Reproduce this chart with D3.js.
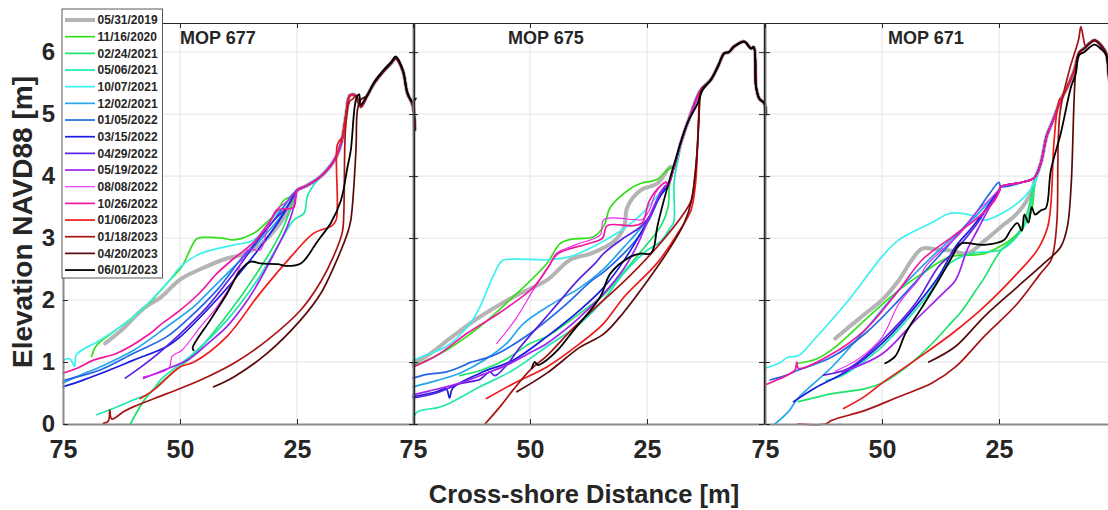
<!DOCTYPE html>
<html>
<head>
<meta charset="utf-8">
<script src="https://cdn.jsdelivr.net/npm/d3@7"></script>
<style>
  html, body { margin: 0; padding: 0; background: #fff; }
  svg text { font-family: "Liberation Sans", Arial, sans-serif; font-weight: bold; fill: #262626; }
</style>
</head>
<body>
<div id="chart"></div>
<script>
// survey dates (legend order = draw order)
const dates = ["05/31/2019", "11/16/2020", "02/24/2021", "05/06/2021", "10/07/2021", "12/02/2021",
  "01/05/2022", "03/15/2022", "04/29/2022", "05/19/2022", "08/08/2022", "10/26/2022",
  "01/06/2023", "01/18/2023", "04/20/2023", "06/01/2023"];
const colors = ["#b4b4b4", "#33e01a", "#1ee36a", "#1ee8b0", "#3ef0f0", "#26a6ec",
  "#2266e6", "#1a1ae0", "#5a22e0", "#a020f0", "#f020f0", "#f0189c",
  "#f01a1a", "#a81414", "#5a0a0a", "#000000"];
const widths = [4, 1.7, 1.7, 1.7, 1.7, 1.7, 1.7, 1.7, 1.7, 1.7, 1.1, 1.7, 1.7, 1.7, 1.7, 1.8];

const panelNames = ["MOP 677", "MOP 675", "MOP 671"];
const xTicks = [75, 50, 25];
const yTicks = [0, 1, 2, 3, 4, 5, 6];

// shared upper beach / bluff-toe profile of each transect [distance m, elevation m]
const crest677 = [[25,3.77],[22.8,3.85],[20,3.99],[17,4.26],[15.5,4.55],[14.5,5.0],[13.7,5.3],[12.5,5.3],[11.4,5.12],[10,5.3],[8.5,5.5],[6.4,5.7],[4.9,5.82],[3.9,5.9],[2.4,5.7],[1.4,5.33],[0.3,5.15],[-0.2,4.75]];
const crest675 = [[20.6,3.83],[19.2,4.15],[17.8,4.53],[15.6,5.01],[13.5,5.39],[11.4,5.55],[9.9,5.76],[8.5,5.98],[7.5,6.0],[6.4,6.09],[4.2,6.17],[2.8,6.06],[2.2,6.08],[1.7,5.44],[1.0,5.25],[-0.1,5.17],[-0.4,5.0]];
const crest671 = [[24.6,3.83],[20,3.9],[17.5,3.97],[16.1,4.2],[14.8,4.65],[14,4.8],[13.2,4.95],[11.8,5.23],[10.4,5.44],[8.9,5.71],[7.9,5.98],[6.8,6.06],[4.6,6.19],[3.2,6.11],[2.1,5.98],[1.4,5.55],[0,5.1]];

// lower profiles, one per date, same order as dates
const mop677 = [
  [[66,1.3],[62,1.55],[58,1.85],[54,2.05],[50,2.33],[45.6,2.5],[40,2.67],[36,2.75],[32,2.95],[28,3.3],[25.5,3.65]],
  [[68.9,1.09],[67.8,1.27],[64,1.5],[59.9,1.73],[56,2.0],[52.8,2.27],[49.6,2.54],[46.4,2.99],[44.2,3.01],[41,3.0],[38.5,2.97],[34.2,3.08],[31.4,3.26],[29.5,3.4],[27.8,3.61],[26.4,3.67]],
  [[60.6,0],[57,0.45],[52,0.8],[47,1.12],[40,1.75],[33,2.5],[28.5,3.08],[26.5,3.45],[25.5,3.7]],
  [[67.8,0.15],[65,0.23],[59.9,0.39],[56.4,0.5],[54.2,0.71],[47.1,1.14],[39.9,1.68],[33.5,2.32],[29.2,2.86],[25.7,3.29],[23.5,3.4],[22.8,3.67],[21.5,3.85]],
  [[75,1.03],[73.5,1.05],[72.5,0.93],[72.1,1.12],[67.1,1.35],[59.9,1.73],[52.8,2.27],[49.6,2.56],[45.6,2.75],[38.5,2.89],[34.2,2.97],[30.6,3.29],[28,3.5],[26,3.7]],
  [[75,0.66],[71,0.8],[67.1,0.92],[59.9,1.19],[52.8,1.57],[47.1,1.89],[45.6,2.0],[39.9,2.43],[32.8,2.97],[29,3.3],[26,3.65]],
  [[75,0.7],[71,0.78],[67.1,0.87],[59.9,1.14],[52.8,1.41],[48.5,1.68],[42.1,2.16],[37.1,2.65],[32.1,3.08],[27.8,3.51],[26,3.7]],
  [[75,0.6],[71,0.7],[67.1,0.81],[59.9,1.03],[52.8,1.25],[49.9,1.41],[44.2,1.84],[38.5,2.32],[32.8,2.86],[27.8,3.4],[25.5,3.72]],
  [[61.7,0.74],[56.4,1.03],[49.9,1.46],[44.2,1.89],[38.5,2.43],[32.8,3.02],[29.9,3.29],[27.1,3.5],[25.5,3.7]],
  [[57.8,0.74],[52.4,0.9],[48,1.05],[44,1.3],[40,1.57],[36.5,1.9],[34.2,2.16],[30.6,2.65],[27.1,3.18],[25.7,3.5],[25.2,3.7]],
  [[57.8,0.76],[52.4,0.9],[51.7,1.09],[49.6,1.19],[45.6,1.57],[42.1,1.89],[37.8,2.43],[35.6,2.81],[32.8,2.81],[31.4,3.13],[29.5,3.45],[27,3.6]],
  [[75,0.82],[72,0.9],[68.5,1.03],[63.5,1.14],[56.4,1.46],[54.2,1.6],[49.9,1.84],[45.6,2.13],[42.1,2.43],[38.5,2.67],[34,2.95],[30.6,3.29],[29.2,3.45],[25.7,3.5]],
  [[58.5,0.41],[55.6,0.55],[50,0.92],[47,1.0],[40,1.41],[33,2.1],[25.7,2.75],[21.4,3.08],[17.5,3.2],[16.6,3.3],[16.4,4.5],[15.6,4.6]],
  [[66.4,0.01],[65.3,0.05],[65,0.23],[64.6,0.08],[62,0.2],[59.9,0.28],[52.8,0.49],[45.6,0.71],[38.5,0.98],[31.4,1.35],[24.2,1.84],[19.9,2.3],[17.1,2.72],[15.3,3.1],[15,3.4],[14.6,4.8],[13.8,5.2],[13,5.25]],
  [[42.8,0.6],[38.5,0.76],[31.4,1.14],[24.2,1.68],[19.9,2.11],[17.1,2.54],[14.2,3.08],[13.5,3.29],[12.4,4.42],[12.1,5.06],[11.4,5.23]],
  [[47.1,1.19],[47.3,1.23],[43.5,1.68],[39.9,2.11],[37.1,2.48],[34.9,2.62],[32.8,2.59],[29.2,2.58],[27.1,2.55],[24.2,2.59],[22.8,2.7],[21.4,2.86],[19.9,3.02],[17.8,3.24],[15.6,3.61],[14.2,4.15],[13.5,4.42],[12.4,5.23],[11.7,5.32],[11.4,5.15],[10,5.3],[8.5,5.52],[6.4,5.72],[4.9,5.84],[3.9,5.93],[2.4,5.72],[1.4,5.35],[0.3,5.2],[-0.4,5.25]]
];

const mop675 = [
  [[75,0.98],[72,1.1],[67.1,1.38],[60.7,1.73],[53.6,2.05],[46.4,2.32],[41.4,2.65],[37,2.75],[32,2.95],[29.9,3.18],[29.2,3.5],[26.4,3.77],[22.8,3.88],[20,4.15]],
  [[75,0.95],[73.6,0.98],[67.9,1.19],[60.7,1.57],[53.6,2.05],[46.4,2.59],[43.6,2.91],[41.4,2.98],[36.4,3.02],[34.2,3.2],[32.8,3.5],[28.5,3.8],[26.4,3.88],[22.8,3.95],[20.3,4.12]],
  [[65,0.78],[60,0.88],[55,1.05],[50,1.3],[46.4,1.41],[39.3,1.79],[34,2.1],[30,2.45],[25,2.9],[22,3.2],[20.5,3.5],[20.2,3.85]],
  [[75,0.1],[74,0.2],[70,0.26],[67.9,0.31],[60.7,0.6],[53.6,0.87],[46.4,1.25],[39.3,1.62],[34.3,2.0],[30,2.43],[25,2.8],[22,2.95],[20.2,3.15],[19.3,3.25],[19.2,3.9],[18.2,4.35]],
  [[75,1.03],[72,1.12],[67.9,1.25],[63,1.6],[60.7,1.89],[57.9,2.38],[56,2.63],[53.6,2.66],[46.4,2.65],[41.4,2.7],[35,2.92],[30,3.15],[26,3.4],[22,3.75],[20.8,3.85]],
  [[75,0.6],[70,0.7],[65,0.82],[60,1.02],[55,1.3],[51.4,1.62],[45,1.95],[39.3,2.2],[34.3,2.5],[30,2.85],[27,3.1],[24,3.4],[22,3.7]],
  [[75,0.74],[72,0.8],[67.9,0.84],[64,0.95],[62.9,0.99],[60,1.05],[57.1,1.13],[50,1.46],[42.9,1.89],[37,2.3],[34.3,2.45],[30,2.75],[27,3.0],[24.5,3.3],[22.5,3.65],[21,3.8]],
  [[75,0.44],[70,0.52],[67.9,0.57],[67.2,0.42],[66.5,0.58],[60.7,0.82],[53.6,1.03],[46.4,1.41],[39.3,1.84],[34.3,2.2],[29.9,2.64],[25.6,3.18],[22.8,3.6],[21,3.8]],
  [[75,0.42],[70,0.5],[65,0.65],[60.7,0.72],[58.6,0.84],[57.5,0.78],[55,0.95],[52,1.25],[48,1.6],[44,1.95],[40,2.3],[36,2.6],[34.3,2.75],[30,3.0],[26.4,3.18],[24,3.4],[22,3.75],[21,3.82]],
  [[75,0.47],[70,0.56],[65,0.66],[60,0.8],[55,0.95],[50,1.15],[46.4,1.3],[42,1.55],[39.3,1.73],[34.3,2.1],[30,2.5],[27,2.9],[25,3.25],[23,3.6],[21,3.85]],
  [[57.1,1.3],[53,1.7],[49,2.2],[45.5,2.6],[44.5,2.75],[40,2.9],[35,3.05],[34.2,3.3],[28,3.3],[26,3.3],[24.5,3.45],[23,3.75],[21,3.9]],
  [[75,0.92],[70,1.1],[63.5,1.46],[56.4,1.8],[49.2,2.21],[46.4,2.5],[44,2.75],[38,2.9],[34.5,3.0],[33.5,3.2],[28,3.2],[26,3.25],[24.5,3.6],[22,3.85],[20.8,3.9]],
  [[59.3,0.41],[53.6,0.65],[46.4,0.92],[39.3,1.3],[34.3,1.62],[29.9,2.05],[22.8,2.6],[17.8,3.15],[15.6,3.45],[14.6,3.9],[14,4.9],[13.5,5.37]],
  [[59.6,0.0],[56.4,0.28],[53.6,0.55],[50,0.87],[46.4,1.1],[40.7,1.55],[35,1.95],[29.9,2.3],[22.8,2.86],[17.1,3.4],[15.6,3.6],[14.6,4.09],[13.9,4.9],[13.5,5.35]],
  [[52.8,0.52],[46.4,0.82],[39.3,1.24],[34.3,1.45],[30,1.8],[25,2.3],[20,2.85],[17,3.25],[15.5,3.6],[14.3,4.4],[13.8,5.1],[13.4,5.38]],
  [[49.6,0.9],[49,1.0],[48.3,0.95],[47,1.0],[44,1.2],[40.7,1.51],[35,2.05],[32.8,2.43],[28.5,2.7],[26.4,2.75],[24.2,2.75],[23.5,2.86],[22.8,3.18],[20.6,3.83],[18.5,4.37],[16.4,4.85],[14.2,5.17],[13.1,5.39]]
];

const mop671 = [
  [[60,1.38],[53.6,1.78],[50,2.0],[46.4,2.32],[43.6,2.65],[41.4,2.83],[37.9,2.81],[35.4,2.8],[31.8,2.75],[28.2,2.95],[24.6,3.18],[21.1,3.4],[18.2,3.72],[17.3,3.95]],
  [[67.9,0.98],[64,1.05],[60.7,1.2],[53.6,1.68],[46.4,2.16],[41,2.45],[38,2.6],[35.4,2.7],[28.2,2.75],[24,2.9],[21.1,3.07],[18.2,3.4],[17.3,3.9]],
  [[67.9,0.36],[63,0.45],[60.7,0.49],[53.6,0.57],[50,0.66],[46,0.85],[42,1.1],[38,1.4],[35.4,1.62],[33.2,1.8],[30,2.15],[28.2,2.35],[24.6,2.8],[21.1,3.05],[19,3.4],[17.3,3.95]],
  [[62,0.7],[58.6,0.78],[55,0.95],[50,1.25],[45,1.65],[40,2.1],[37,2.45],[35.4,2.6],[31.1,2.75],[24.6,2.81],[21.1,3.03],[19,3.29],[17.4,3.85]],
  [[75,0.9],[72,0.98],[70,1.08],[67.9,1.1],[64.3,1.38],[57.1,2.0],[50,2.7],[46.4,2.97],[39.3,3.25],[35.4,3.4],[31,3.37],[28.2,3.29],[24.6,3.39],[19.6,3.66],[17.4,3.9]],
  [[72.9,0],[70,0.2],[67.9,0.42],[60.7,0.92],[53.6,1.52],[46.4,2.16],[39.3,2.7],[35,3.0],[30,3.35],[27,3.6],[24.8,3.8]],
  [[73.9,0.71],[70.7,0.78],[67.9,0.87],[60.7,1.08],[53.6,1.46],[46.4,2.0],[39.3,2.59],[35,2.95],[30,3.4],[27,3.72],[25,3.9]],
  [[68.9,0.36],[64.3,0.58],[57.1,0.87],[50,1.3],[42.9,1.89],[37.9,2.38],[34.3,2.86],[31,3.15],[28,3.45],[25,3.78]],
  [[62.5,0.79],[57.1,0.9],[50,1.35],[42.9,1.94],[37.9,2.54],[35,2.75],[30,3.2],[27,3.55],[25,3.75]],
  [[58.6,0.84],[50,1.13],[42.9,1.67],[37.1,2.1],[34.3,2.32],[31.8,2.81],[29.6,3.13],[27,3.5],[25,3.75]],
  [[60,0.85],[55,1.05],[50,1.4],[46.4,1.94],[42,2.35],[40.7,2.54],[36.4,2.86],[33,3.1],[30,3.4],[26,3.7],[24.8,3.8]],
  [[75,0.63],[70.7,0.77],[68.6,0.87],[68.2,1.0],[67.9,0.9],[60.7,1.13],[53.6,1.52],[46.4,2.16],[41.4,2.65],[35,3.02],[30,3.3],[26,3.6],[24.8,3.78]],
  [[58.2,0.25],[53.6,0.45],[50,0.66],[42.9,1.03],[35,1.46],[28.2,1.89],[21.1,2.43],[16.8,2.81],[14.6,3.18],[13.9,3.56],[13.3,4.5],[12.5,5.1],[12,5.25]],
  [[67.9,0],[62.1,0],[60.7,0.06],[53.6,0.22],[46.4,0.44],[39.3,0.66],[34.3,0.92],[28.2,1.41],[21.1,1.94],[16.1,2.43],[13.9,2.64],[13.2,2.85],[12.6,3.3],[12.0,5.0],[10.0,5.7],[8.0,6.2],[7.5,6.41],[6.9,6.2],[6.5,6.1]],
  [[40,1.0],[34.3,1.25],[28.2,1.73],[21.1,2.21],[15.4,2.59],[11.8,2.86],[10.4,3.18],[9.6,3.83],[8.6,5.71],[7.9,6.0],[7,6.05]],
  [[49.3,0.98],[47.1,1.1],[45,1.46],[41.4,1.89],[37.9,2.32],[35,2.7],[33.2,2.91],[28.2,2.89],[23.9,2.97],[22.5,3.13],[21.1,3.24],[20.1,3.12],[19.6,3.38],[18.7,3.25],[18,3.5],[17.3,3.38],[16,3.45],[15,3.48],[13.9,4.1],[11.8,4.69],[9.6,5.44],[8.6,5.65],[7.9,5.95],[6.8,6.0],[4.6,6.12],[3.2,6.05],[2.1,5.95],[1.4,5.5],[0,5.1]]
];

const panels = [
  { name: panelNames[0], lower: mop677, crest: crest677, labelAt: 50 },
  { name: panelNames[1], lower: mop675, crest: crest675, labelAt: 54.7 },
  { name: panelNames[2], lower: mop671, crest: crest671, labelAt: 48.7 }
];

// continue a lower profile onto the shared upper profile
function fullProfile(pts, crest) {
  const lastX = pts[pts.length - 1][0];
  return pts.concat(crest.filter(p => p[0] < lastX));
}

const svgWidth = 1108, svgHeight = 510;
const panelLeft = [63, 413, 765];
const panelW = 351;
const yBottom = 424, yTop = 23;

const svg = d3.select("#chart").append("svg")
  .attr("width", svgWidth)
  .attr("height", svgHeight);

const y = d3.scaleLinear().domain([0, 6.47]).range([yBottom, yTop]);

const xScales = panelLeft.map(l => d3.scaleLinear().domain([75, 0]).range([l, l + panelW]));

// grid
panels.forEach((p, i) => {
  const x = xScales[i];
  const g = svg.append("g");
  g.selectAll("line.vx").data([50, 25]).enter().append("line")
    .attr("x1", d => x(d)).attr("x2", d => x(d))
    .attr("y1", yTop).attr("y2", yBottom)
    .attr("stroke", "#e3e3e3").attr("stroke-width", 1);
  g.selectAll("line.hy").data(yTicks.filter(d => d > 0)).enter().append("line")
    .attr("x1", x(75)).attr("x2", x(0))
    .attr("y1", d => y(d)).attr("y2", d => y(d))
    .attr("stroke", "#e3e3e3").attr("stroke-width", 1);
});

// profiles
panels.forEach((p, i) => {
  const x = xScales[i];
  const line = d3.line()
    .x(d => x(d[0]))
    .y(d => y(d[1]))
    .curve(d3.curveCatmullRom.alpha(0.5));
  svg.append("g").selectAll("path")
    .data(p.lower.map((pts, k) => ({ k, pts: fullProfile(pts, p.crest) })))
    .enter().append("path")
    .attr("d", d => line(d.pts))
    .attr("fill", "none")
    .attr("stroke", d => colors[d.k])
    .attr("stroke-width", d => widths[d.k])
    .attr("stroke-linejoin", "round")
    .attr("stroke-linecap", "round");
});

// axes: left/bottom first, then top/right so the panel separators stay dark
panels.forEach((p, i) => {
  const x = xScales[i];
  const bottom = svg.append("g")
    .attr("transform", `translate(0,${yBottom})`)
    .call(d3.axisBottom(x).tickValues(xTicks).tickFormat(d3.format("d"))
      .tickSizeInner(-5).tickSizeOuter(0).tickPadding(16));
  bottom.select(".domain").attr("stroke", "#8a8a8a").attr("stroke-width", 2);
  bottom.selectAll(".tick line").attr("stroke", "#262626");
  bottom.selectAll("text").style("font-size", "25px").attr("fill", "#262626");

  const left = svg.append("g")
    .attr("transform", `translate(${x(75)},0)`)
    .call(d3.axisLeft(y).tickValues(yTicks).tickFormat(d3.format("d"))
      .tickSizeInner(-5).tickSizeOuter(0).tickPadding(8));
  left.select(".domain").attr("stroke", "#8a8a8a").attr("stroke-width", 2);
  left.selectAll(".tick line").attr("stroke", "#262626");
  left.selectAll("text").style("font-size", "24px").attr("fill", "#262626");
  if (i > 0) left.selectAll("text").remove();
});

panels.forEach((p, i) => {
  const x = xScales[i];
  const top = svg.append("g")
    .attr("transform", `translate(0,${yTop})`)
    .call(d3.axisTop(x).tickValues(xTicks).tickSizeInner(-5).tickSizeOuter(0));
  top.select(".domain").attr("stroke", "#262626").attr("stroke-width", 1);
  top.selectAll(".tick line").attr("stroke", "#262626");
  top.selectAll("text").remove();

  const right = svg.append("g")
    .attr("transform", `translate(${x(0)},0)`)
    .call(d3.axisRight(y).tickValues(yTicks).tickSizeInner(-5).tickSizeOuter(0));
  right.select(".domain").attr("stroke", "#262626").attr("stroke-width", 1.5);
  right.selectAll(".tick line").attr("stroke", "#262626");
  right.selectAll("text").remove();

  svg.append("text")
    .attr("x", x(p.labelAt))
    .attr("y", 43.5)
    .style("font-size", "18px")
    .attr("fill", "#111")
    .text(p.name);
});

// axis titles
svg.append("text")
  .attr("transform", "rotate(-90)")
  .attr("x", -222)
  .attr("y", 32)
  .attr("text-anchor", "middle")
  .style("font-size", "28px")
  .text("Elevation NAVD88 [m]");

svg.append("text")
  .attr("x", 584)
  .attr("y", 503)
  .attr("text-anchor", "middle")
  .style("font-size", "25.5px")
  .text("Cross-shore Distance [m]");

// legend
const legend = svg.append("g");
legend.append("rect")
  .attr("x", 62).attr("y", 9)
  .attr("width", 100.5).attr("height", 269)
  .attr("fill", "#fff")
  .attr("stroke", "#5a5a5a").attr("stroke-width", 1);

const rows = legend.selectAll("g.row").data(dates).enter().append("g")
  .attr("transform", (d, k) => `translate(0,${20 + k * 16.67})`);
rows.append("line")
  .attr("x1", 65).attr("x2", 95)
  .attr("stroke", (d, k) => colors[k])
  .attr("stroke-width", (d, k) => widths[k]);
rows.append("text")
  .attr("x", 97.5).attr("dy", "0.36em")
  .style("font-size", "12px")
  .attr("fill", "#1a1a1a")
  .text(d => d);
</script>
</body>
</html>
